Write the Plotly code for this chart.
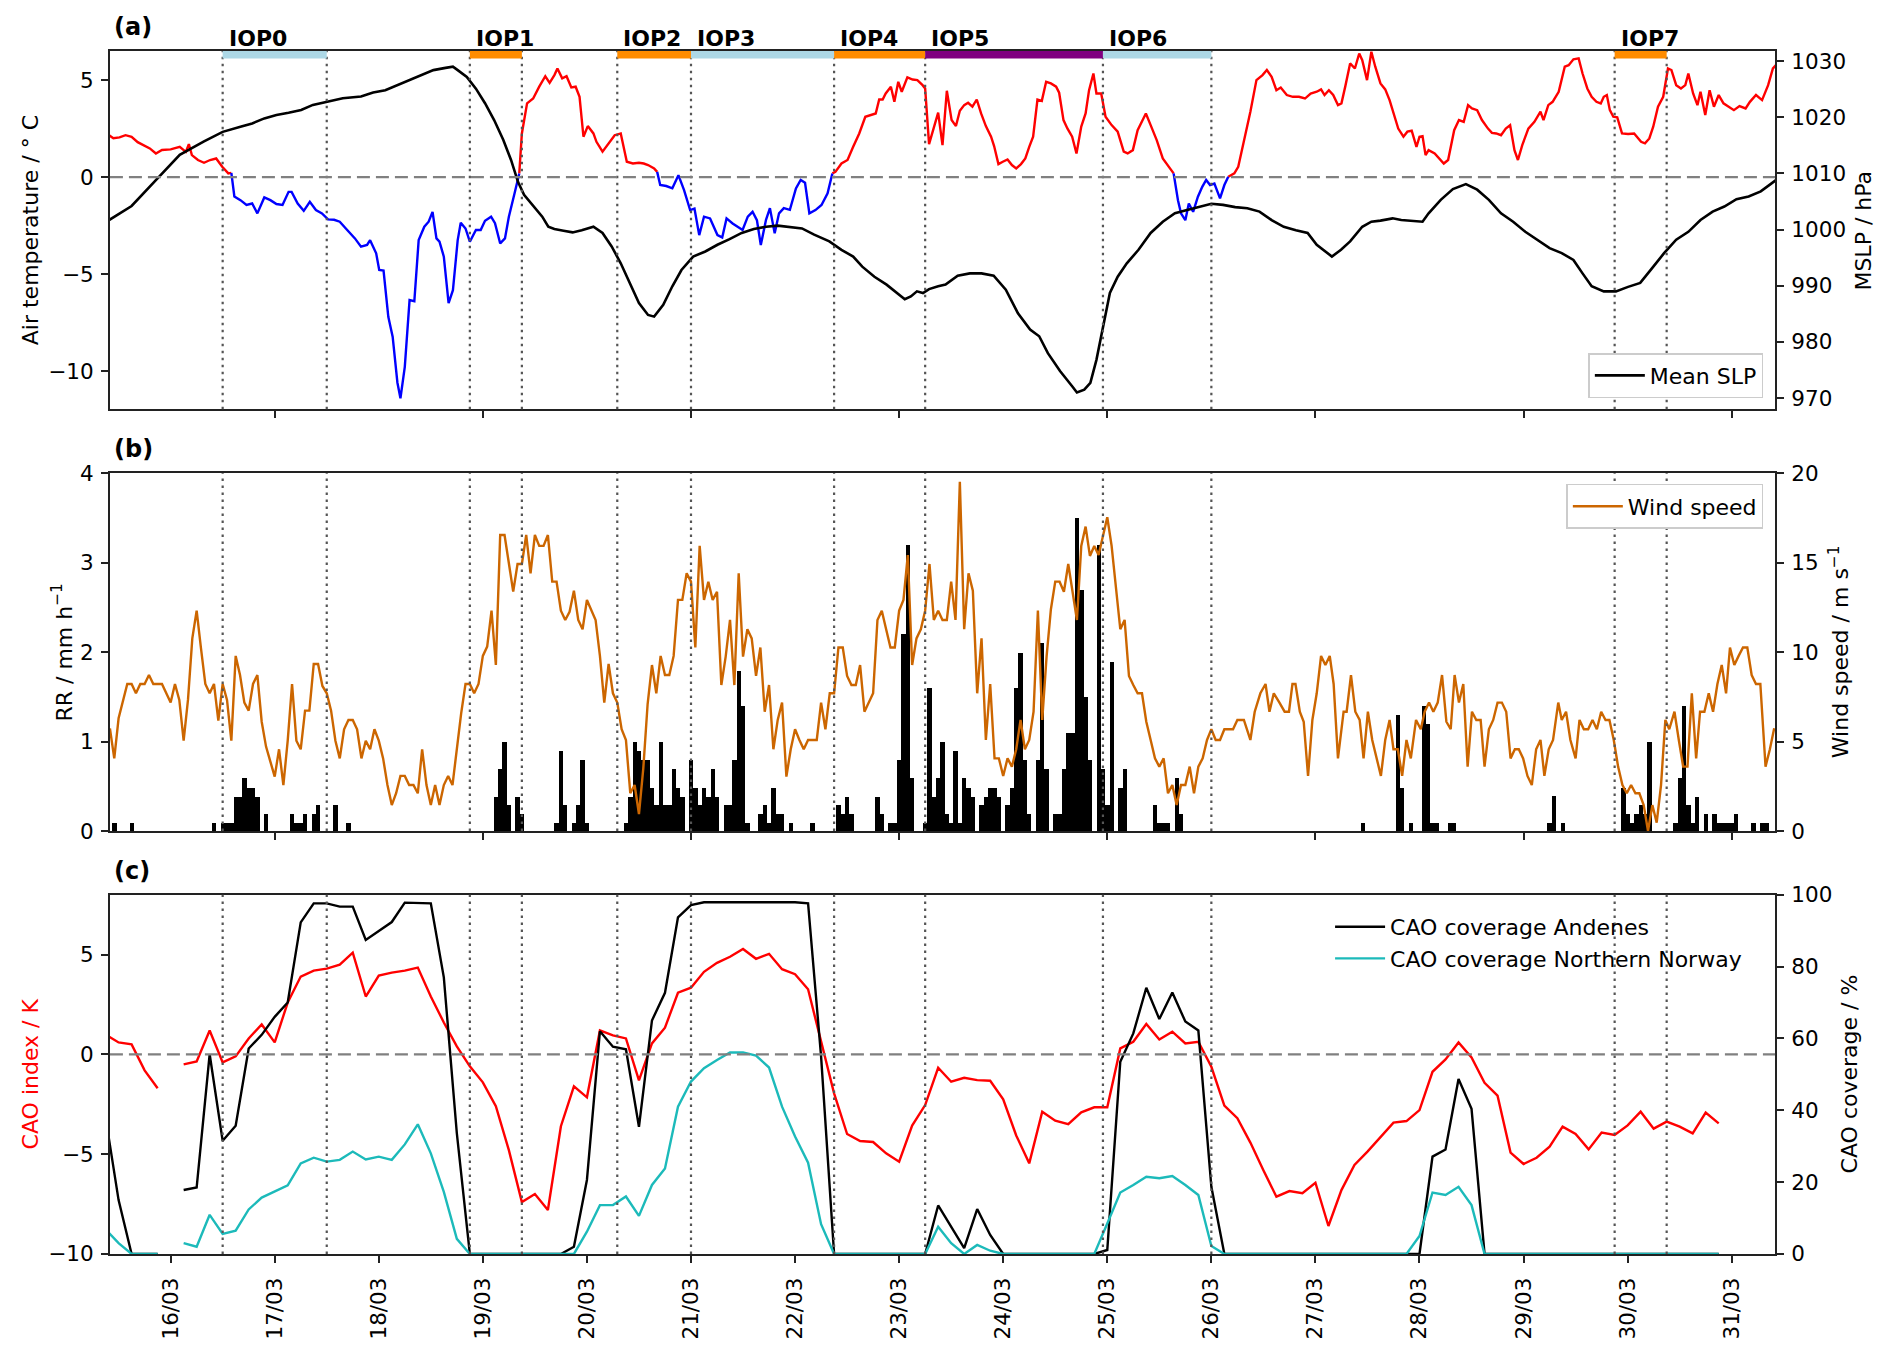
import pandas as pd
import plotly.graph_objects as go

T0 = pd.Timestamp("2022-03-15 00:00")

# ---- (a) air temperature / MSLP, hours after 15/03 00 UTC
temp_hours = [
    9.8, 10.8, 12.2, 13.6, 15.0, 16.4, 19.2, 20.6, 22.0, 24.0,
    26.1, 27.5, 28.2, 28.9, 30.3, 31.7, 33.1, 34.5, 35.9, 37.3,
    38.0, 38.7, 40.1, 41.5, 42.8, 44.0, 45.6, 47.0, 48.4, 49.8,
    51.2, 51.9, 53.3, 54.7, 56.1, 57.5, 58.9, 60.3, 61.7, 63.0,
    64.4, 66.5, 67.9, 69.3, 70.0, 71.4, 72.1, 73.1, 74.2, 75.2,
    76.3, 77.0, 78.0, 79.1, 80.2, 81.2, 82.5, 83.5, 84.4, 85.3,
    86.0, 87.0, 88.1, 89.1, 90.2, 90.9, 92.0, 93.0, 94.4, 95.5,
    96.5, 97.9, 98.8, 100.0, 101.1, 102.0, 103.4, 104.4, 105.0, 106.2,
    107.6, 109.0, 110.4, 111.4, 112.5, 113.2, 114.3, 115.3, 116.4, 117.4,
    118.3, 119.2, 120.2, 121.5, 122.2, 123.6, 125.0, 126.4, 127.8, 129.2,
    130.6, 132.0, 133.1, 134.1, 135.5, 136.2, 136.9, 138.3, 139.7, 141.1,
    142.4, 143.8, 144.8, 145.9, 147.0, 148.4, 150.1, 151.2, 152.2, 153.6,
    155.0, 155.9, 157.1, 158.2, 159.2, 160.1, 161.3, 162.2, 163.3, 164.3,
    165.4, 166.8, 168.2, 169.3, 170.3, 171.3, 172.7, 174.1, 175.5, 176.6,
    177.3, 178.7, 180.1, 181.4, 182.8, 184.2, 185.6, 186.6, 187.4, 188.2,
    188.9, 190.1, 190.9, 191.8, 192.6, 193.9, 195.1, 196.2, 197.4, 198.0,
    198.9, 200.1, 201.0, 202.0, 203.0, 204.1, 205.1, 206.0, 207.0, 207.9,
    208.9, 209.9, 210.9, 212.0, 213.2, 213.9, 214.9, 215.9, 217.0, 218.0,
    219.0, 220.1, 221.1, 222.0, 222.9, 223.9, 224.9, 225.9, 227.0, 228.2,
    228.9, 229.9, 230.8, 231.9, 232.9, 234.0, 235.0, 235.8, 236.8, 237.5,
    238.6, 239.6, 241.0, 242.4, 243.8, 244.7, 245.9, 247.0, 247.9, 248.9,
    250.0, 251.4, 252.8, 254.9, 255.3, 256.3, 257.0, 258.0, 258.8, 259.8,
    260.9, 261.9, 262.8, 263.7, 264.7, 266.0, 267.0, 267.9, 269.3, 270.2,
    271.6, 273.0, 274.4, 275.8, 276.8, 277.9, 279.0, 280.0, 281.4, 282.8,
    284.2, 285.6, 286.9, 288.3, 289.3, 290.1, 291.1, 292.1, 293.2, 294.0,
    294.9, 296.0, 297.1, 298.1, 298.8, 299.9, 300.9, 301.8, 303.0, 304.1,
    305.1, 306.0, 307.1, 308.3, 309.2, 310.2, 311.3, 312.0, 312.7, 313.4,
    314.1, 315.5, 316.6, 317.6, 318.6, 320.0, 321.1, 322.2, 323.2, 324.1,
    325.3, 326.4, 327.8, 328.7, 329.7, 330.8, 331.9, 332.9, 333.9, 334.7,
    335.7, 337.1, 338.5, 339.9, 340.6, 341.7, 342.7, 344.1, 345.5, 346.4,
    347.5, 348.7, 349.6, 350.7, 351.7, 352.8, 353.8, 354.5, 355.2, 355.9,
    356.7, 357.6, 358.7, 360.1, 361.5, 362.2, 363.1, 364.0, 365.0, 365.9,
    367.0, 368.2, 369.3, 370.1, 371.2, 372.3, 373.3, 374.0, 375.1, 376.1,
    376.8, 377.9, 378.9, 379.9, 381.0, 382.1, 383.2, 384.5, 385.8, 387.2,
    388.2, 389.6, 391.0, 392.4, 393.5, 394.2,
]
temp_vals = [
    2.16, 2.0, 2.05, 2.16, 2.08, 1.8, 1.48, 1.22, 1.4, 1.43,
    1.56, 1.3, 1.7, 1.13, 0.88, 0.74, 0.88, 0.96, 0.53, 0.19,
    0.22, -1.0, -1.19, -1.44, -1.36, -1.87, -1.05, -1.19, -1.39, -1.44,
    -0.76, -0.76, -1.36, -1.74, -1.27, -1.70, -1.87, -2.18, -2.2, -2.3,
    -2.65, -3.16, -3.59, -3.5, -3.25, -3.93, -4.79, -4.82, -7.2, -8.23,
    -10.6, -11.4, -9.78, -6.34, -6.4, -3.25, -2.56, -2.3, -1.79, -3.16,
    -3.33, -4.1, -6.5, -5.83, -3.25, -2.35, -2.65, -3.33, -2.73, -2.73,
    -2.25, -2.04, -2.38, -3.42, -3.16, -2.04, -0.76, 0.19, 2.25, 3.8,
    4.05, 4.66, 5.2, 4.86, 5.26, 5.6, 5.09, 5.2, 4.62, 4.66,
    4.14, 2.08, 2.63, 2.25, 1.82, 1.31, 1.74, 2.16, 2.25, 0.79,
    0.7, 0.74, 0.7, 0.62, 0.45, 0.27, -0.41, -0.46, -0.58, 0.1,
    -0.67, -1.7, -1.62, -2.99, -2.04, -2.13, -2.99, -3.11, -2.13, -2.39,
    -2.6, -2.73, -2.04, -1.79, -2.22, -3.5, -2.2, -1.6, -2.9, -1.87,
    -1.6, -1.69, -0.58, -0.15, -0.29, -1.87, -1.7, -1.44, -0.84, 0.19,
    0.27, 0.7, 0.88, 1.56, 2.25, 3.11, 3.2, 3.28, 4.0, 4.0,
    4.31, 4.66, 3.88, 4.91, 4.4, 5.14, 5.03, 5.0, 4.74, 4.57,
    1.70, 2.68, 3.32, 1.65, 4.45, 2.94, 2.63, 3.42, 3.71, 3.83,
    3.63, 4.0, 3.28, 2.63, 2.08, 1.6, 0.67, 0.79, 0.91, 0.62,
    0.45, 0.67, 0.96, 1.56, 2.08, 4.0, 3.93, 4.91, 4.83, 4.66,
    4.35, 2.94, 2.51, 2.08, 1.22, 2.6, 3.28, 4.48, 5.34, 4.31,
    4.31, 3.11, 2.68, 2.34, 1.31, 1.22, 1.39, 2.42, 2.85, 3.28,
    2.68, 1.91, 0.96, 0.36, 0.19, -1.19, -1.87, -2.22, -1.36, -1.79,
    -1.01, -0.5, -0.15, -0.41, -0.33, -1.1, -0.41, 0.02, 0.19, 0.53,
    1.91, 3.37, 5.0, 5.26, 5.52, 5.17, 4.48, 4.62, 4.23, 4.14,
    4.14, 4.05, 4.31, 4.4, 4.52, 4.23, 4.48, 4.23, 3.71, 3.8,
    4.69, 5.86, 5.6, 6.37, 6.03, 5.0, 6.46, 5.69, 4.83, 4.52,
    3.97, 3.28, 2.5, 2.08, 2.34, 2.39, 1.56, 2.08, 2.11, 1.13,
    1.39, 1.22, 0.96, 0.7, 0.88, 2.42, 2.94, 2.85, 3.71, 3.54,
    3.45, 2.94, 2.5, 2.28, 2.25, 2.16, 2.5, 2.68, 1.39, 0.88,
    1.65, 2.5, 2.85, 3.37, 2.94, 3.71, 3.88, 4.4, 5.69, 5.77,
    6.07, 6.12, 5.34, 4.57, 4.14, 3.88, 3.8, 4.14, 4.23, 3.45,
    3.11, 3.08, 2.25, 2.22, 2.25, 2.08, 1.82, 1.74, 1.99, 2.6,
    3.63, 4.14, 5.6, 5.52, 4.74, 4.57, 4.74, 5.34, 4.31, 3.71,
    4.4, 3.2, 4.48, 3.63, 4.23, 3.8, 3.66, 3.45, 3.66, 3.54,
    3.88, 4.23, 3.97, 4.74, 5.6, 5.77,
]

slp_hours = [
    9.8, 15.0, 20.6, 26.1, 31.7, 36.0, 40.1, 42.8, 45.6, 48.4,
    51.2, 54.1, 56.8, 60.3, 63.7, 67.9, 70.7, 73.5, 76.3, 79.1,
    81.8, 84.6, 87.4, 89.1, 90.2, 92.3, 94.4, 96.5, 98.6, 100.7,
    102.5, 104.1, 105.5, 107.6, 109.7, 111.1, 112.5, 114.6, 116.7, 118.8,
    121.5, 123.6, 125.7, 127.8, 129.9, 132.0, 134.1, 135.5, 137.6, 139.7,
    141.8, 144.5, 147.3, 150.1, 152.9, 155.7, 158.5, 161.3, 164.0, 166.8,
    169.6, 172.4, 175.9, 178.7, 181.4, 183.5, 186.3, 189.1, 191.9, 193.3,
    194.7, 196.1, 197.5, 198.9, 201.0, 202.7, 205.5, 208.3, 211.0, 213.8,
    216.6, 219.4, 222.2, 224.3, 226.3, 229.1, 231.9, 233.0, 234.7, 236.1,
    237.5, 239.2, 240.6, 242.4, 244.5, 247.2, 250.0, 252.8, 255.6, 258.4,
    261.2, 264.0, 266.7, 269.5, 272.3, 275.1, 277.9, 280.7, 283.5, 286.2,
    288.3, 290.4, 291.8, 293.9, 296.0, 298.8, 300.9, 303.0, 305.8, 307.8,
    310.6, 312.7, 314.1, 316.9, 319.7, 322.7, 325.3, 328.0, 330.8, 333.6,
    336.4, 339.2, 342.0, 344.8, 347.5, 349.6, 351.7, 354.5, 357.3, 360.1,
    362.9, 365.6, 368.4, 371.2, 374.0, 376.8, 379.6, 382.3, 385.1, 387.9,
    390.7, 392.8, 394.2,
]
slp_vals = [
    1001.7, 1004.2, 1008.8, 1013.3, 1015.7, 1017.4, 1018.3, 1018.9, 1019.8, 1020.4,
    1020.8, 1021.3, 1022.2, 1022.8, 1023.4, 1023.7, 1024.4, 1024.8, 1025.7, 1026.7,
    1027.5, 1028.4, 1028.8, 1029.0, 1028.4, 1027.2, 1025.1, 1022.5, 1019.5, 1016.0,
    1012.4, 1008.5, 1006.2, 1004.2, 1002.3, 1000.5, 1000.1, 999.8, 999.5, 999.9,
    1000.5, 999.4, 997.0, 994.0, 990.5, 986.9, 984.8, 984.5, 986.6, 989.9,
    992.8, 995.2, 996.1, 997.3, 998.3, 999.4, 1000.1, 1000.5, 1000.7, 1000.5,
    1000.2, 999.1, 997.9, 996.4, 995.2, 993.4, 991.6, 990.2, 988.4, 987.6,
    988.1, 989.0, 988.7, 989.4, 989.9, 990.2, 991.8, 992.2, 992.2, 991.8,
    989.3, 985.1, 982.2, 981.0, 978.0, 974.8, 972.1, 971.0, 971.5, 972.7,
    976.8, 983.3, 988.7, 991.6, 994.0, 996.4, 999.4, 1001.4, 1002.9, 1003.5,
    1004.1, 1004.6, 1004.4, 1004.0, 1003.8, 1003.2, 1001.7, 1000.5, 999.9, 999.4,
    997.3, 996.1, 995.2, 996.4, 997.9, 1000.5, 1001.4, 1001.6, 1002.0, 1001.7,
    1001.6, 1001.4, 1002.9, 1005.3, 1007.2, 1008.1, 1007.1, 1005.3, 1002.9, 1001.4,
    999.6, 998.2, 996.7, 995.8, 994.6, 992.2, 989.9, 989.0, 989.0, 989.8,
    990.5, 993.1, 995.8, 998.2, 999.6, 1001.7, 1003.2, 1004.1, 1005.4, 1005.9,
    1006.8, 1008.0, 1008.8,
]

# ---- (b) wind speed (hourly) and precipitation rate
wind_hours = [
    10, 11, 12, 14, 15, 16, 17, 18, 19, 20,
    22, 24, 25, 26, 27, 28, 29, 30, 31, 32,
    33, 34, 35, 36, 37, 38, 39, 40, 41, 42,
    43, 44, 45, 46, 47, 48, 49, 50, 51, 52,
    53, 54, 55, 56, 57, 58, 59, 60, 61, 62,
    63, 64, 65, 66, 67, 68, 69, 70, 71, 72,
    73, 74, 75, 76, 77, 78, 79, 80, 81, 82,
    83, 84, 85, 86, 87, 88, 89, 90, 91, 92,
    93, 94, 95, 96, 97, 98, 99, 100, 101, 102,
    103, 104, 105, 106, 107, 108, 109, 110, 111, 112,
    113, 114, 115, 116, 117, 118, 119, 120, 121, 122,
    123, 124, 125, 126, 127, 128, 129, 130, 131, 132,
    133, 134, 135, 136, 137, 138, 139, 140, 141, 142,
    143, 144, 145, 146, 147, 148, 149, 150, 151, 152,
    153, 154, 155, 156, 157, 158, 159, 160, 161, 162,
    163, 164, 165, 166, 167, 168, 169, 170, 171, 172,
    173, 174, 175, 176, 177, 178, 179, 180, 181, 182,
    183, 184, 185, 186, 187, 188, 189, 190, 191, 192,
    193, 194, 195, 196, 197, 198, 199, 200, 201, 202,
    203, 204, 205, 206, 207, 208, 209, 210, 211, 212,
    213, 214, 215, 216, 217, 218, 219, 220, 221, 222,
    223, 224, 225, 226, 227, 228, 229, 230, 231, 232,
    233, 234, 235, 236, 237, 238, 239, 240, 241, 242,
    243, 244, 245, 246, 247, 248, 249, 250, 251, 252,
    253, 254, 255, 256, 257, 258, 259, 260, 261, 262,
    263, 264, 265, 266, 267, 268, 269, 270, 271.5, 273.0,
    274.0, 275.3, 276.5, 277.4, 278.4, 279.7, 280.9, 281.9, 282.7, 283.4,
    284.4, 285.3, 286.3, 287.3, 288.3, 289.3, 290.3, 291.3, 292.2, 293.2,
    294.5, 295.2, 296.2, 297.2, 298.2, 299.1, 300.1, 301.1, 302.1, 303.1,
    304.1, 305.1, 306.0, 307.0, 308.0, 309.0, 310.0, 311.2, 312.3, 313.2,
    314.2, 315.2, 316.2, 317.2, 318.2, 319.2, 320.1, 321.1, 322.1, 323.1,
    324.1, 325.1, 326.1, 327.0, 328.0, 329.0, 330.0, 331.0, 332.0, 333.0,
    334.0, 334.9, 335.9, 336.9, 337.9, 338.9, 339.9, 340.8, 341.8, 342.8,
    344.0, 344.8, 345.8, 346.8, 348.0, 348.9, 349.9, 350.9, 351.9, 352.9,
    353.9, 354.9, 355.8, 356.8, 357.8, 358.8, 359.8, 360.8, 361.8, 362.7,
    363.7, 364.7, 365.7, 366.7, 367.7, 368.7, 369.6, 370.8, 371.8, 372.8,
    373.8, 374.8, 375.8, 376.7, 377.7, 378.7, 379.7, 380.7, 381.7, 382.7,
    383.6, 384.6, 385.6, 386.6, 387.6, 388.6, 389.6, 390.6, 391.8, 392.8,
    393.8,
]
wind_vals = [
    5.74, 4.06, 6.3, 8.22, 8.22, 7.7, 8.22, 8.22, 8.72, 8.22,
    8.22, 7.18, 8.22, 7.33, 5.05, 7.33, 10.77, 12.32, 10.21, 8.22,
    7.7, 8.22, 6.17, 8.22, 7.33, 5.05, 9.79, 8.72, 7.18, 6.73,
    8.22, 8.72, 6.11, 4.72, 3.88, 3.04, 4.57, 2.57, 5.05, 8.22,
    5.05, 4.57, 6.73, 6.73, 9.34, 9.34, 8.11, 7.7, 6.73, 5.05,
    4.06, 5.69, 6.21, 6.21, 5.69, 4.06, 5.05, 4.57, 5.69, 5.05,
    4.06, 2.57, 1.45, 2.11, 3.08, 3.08, 2.57, 2.57, 2.11, 4.57,
    2.57, 1.45, 2.57, 1.45, 2.57, 3.08, 2.57, 4.62, 6.58, 8.22,
    8.22, 7.7, 8.22, 9.79, 10.31, 12.32, 9.28, 16.55, 16.55, 14.97,
    13.38, 14.93, 14.93, 16.55, 14.41, 16.55, 15.94, 15.94, 16.55, 13.94,
    13.94, 12.32, 11.8, 12.26, 13.44, 11.8, 11.28, 12.92, 12.36, 11.8,
    9.79, 7.18, 9.34, 7.7, 7.18, 5.69, 5.09, 2.11, 2.57, 0.95,
    3.5, 7.1, 9.28, 7.7, 9.79, 8.72, 8.72, 9.79, 12.92, 12.92,
    14.41, 13.94, 10.26, 15.94, 12.92, 13.94, 12.92, 13.38, 8.16, 9.75,
    11.8, 8.16, 14.41, 9.75, 11.28, 10.77, 8.67, 10.26, 6.67, 8.16,
    4.57, 6.21, 7.18, 3.04, 4.57, 5.69, 5.09, 4.57, 5.09, 5.09,
    5.09, 7.18, 5.69, 7.7, 7.7, 10.26, 10.26, 8.67, 8.16, 8.16,
    9.28, 6.67, 7.18, 7.7, 11.8, 12.32, 11.28, 10.26, 10.26, 12.32,
    12.92, 15.43, 9.28, 10.77, 11.28, 12.32, 14.93, 11.8, 12.32, 11.8,
    11.8, 13.94, 11.8, 19.53, 11.28, 14.41, 13.44, 7.7, 10.77, 5.09,
    8.22, 4.06, 4.06, 3.08, 4.06, 3.6, 4.57, 6.21, 4.57, 5.09,
    6.67, 12.32, 6.21, 9.75, 12.4, 13.94, 13.94, 13.38, 14.93, 13.44,
    11.8, 15.94, 17.02, 15.38, 15.94, 15.43, 16.46, 17.54, 15.94, 13.44,
    11.28, 11.8, 8.67, 8.16, 7.7, 7.7, 6.11, 5.09, 4.06, 3.6,
    4.06, 2.11, 2.57, 1.45, 2.57, 2.57, 3.6, 2.11, 3.6, 4.06,
    5.09, 5.69, 5.09, 5.09, 5.69, 5.69, 5.69, 6.21, 6.21, 5.09,
    6.67, 7.7, 8.22, 6.67, 7.7, 7.18, 6.67, 6.67, 8.22, 8.22,
    6.67, 6.11, 3.08, 6.21, 7.7, 9.79, 9.28, 9.79, 8.22, 4.06,
    6.67, 6.67, 8.72, 6.67, 6.21, 4.06, 6.67, 5.09, 4.06, 3.08,
    5.09, 6.21, 4.57, 4.57, 3.08, 5.09, 4.06, 6.21, 5.69, 6.67,
    7.18, 6.67, 7.18, 8.72, 6.11, 5.69, 8.72, 7.18, 8.22, 3.6,
    6.67, 6.21, 6.21, 3.6, 5.69, 6.21, 7.18, 7.18, 6.67, 4.06,
    4.57, 4.57, 4.06, 3.08, 2.57, 4.57, 5.09, 3.08, 4.57, 5.09,
    7.18, 6.21, 6.67, 5.09, 4.06, 6.21, 5.69, 5.69, 6.21, 5.69,
    6.67, 6.21, 6.21, 5.09, 3.6, 2.57, 2.11, 2.57, 2.11, 2.11,
    1.45, 0.0, 1.45, 0.47, 2.57, 6.21, 5.69, 6.67, 5.09, 3.6,
    3.6, 7.7, 4.06, 6.67, 6.67, 7.7, 6.67, 8.22, 9.28, 7.7,
    10.26, 9.28, 9.79, 10.26, 10.26, 8.72, 8.22, 8.22, 3.6, 4.57,
    5.74,
]

rr_hours = [
    11, 15, 34, 36, 37, 38, 39, 40, 41, 42,
    43, 44, 46, 52, 53, 54, 55, 57, 58, 62,
    65, 99, 100, 101, 102, 104, 105, 113, 114, 115,
    117, 118, 119, 120, 129, 130, 131, 132, 133, 134,
    135, 136, 137, 138, 139, 140, 141, 142, 144, 145,
    146, 147, 148, 149, 150, 152, 153, 154, 155, 156,
    157, 160, 161, 162, 163, 164, 165, 167, 172, 178,
    179, 180, 181, 187, 188, 190, 191, 192, 193, 194,
    195, 198, 199, 200, 201, 202, 203, 204, 205, 206,
    207, 208, 209, 211, 212, 213, 214, 215, 217, 218,
    219, 220, 221, 222, 224, 225, 226, 228, 229, 230,
    231, 232, 233, 234, 235, 236, 238, 239, 240, 241,
    243, 244, 251, 252, 253, 254, 256, 257, 299, 307,
    308, 310, 313, 314, 315, 316, 319, 320, 342, 343,
    345, 359, 360, 361, 362, 363, 364, 365, 371, 372,
    373, 374, 375, 376, 378, 380, 381, 382, 383, 384,
    385, 389, 391, 392,
]
rr_vals = [
    0.09, 0.09, 0.09, 0.09, 0.09, 0.09, 0.38, 0.38, 0.59, 0.48,
    0.48, 0.38, 0.19, 0.19, 0.09, 0.09, 0.19, 0.19, 0.29, 0.29,
    0.09, 0.38, 0.69, 0.99, 0.29, 0.38, 0.19, 0.09, 0.89, 0.29,
    0.09, 0.29, 0.79, 0.09, 0.09, 0.38, 0.99, 0.89, 0.79, 0.79,
    0.48, 0.29, 0.99, 0.29, 0.29, 0.69, 0.48, 0.38, 0.79, 0.48,
    0.29, 0.48, 0.38, 0.69, 0.38, 0.29, 0.29, 0.79, 1.79, 1.39,
    0.09, 0.19, 0.29, 0.09, 0.48, 0.19, 0.19, 0.09, 0.09, 0.29,
    0.19, 0.38, 0.19, 0.38, 0.19, 0.09, 0.09, 0.79, 2.2, 3.2,
    0.59, 0.09, 1.6, 0.38, 0.59, 0.99, 0.19, 0.09, 0.89, 0.09,
    0.59, 0.48, 0.38, 0.29, 0.38, 0.48, 0.48, 0.38, 0.29, 0.48,
    1.6, 1.99, 0.79, 0.19, 0.79, 2.1, 0.69, 0.19, 0.19, 0.69,
    1.09, 1.09, 3.5, 2.69, 1.49, 0.79, 3.2, 0.69, 0.29, 1.89,
    0.48, 0.69, 0.29, 0.09, 0.09, 0.09, 0.59, 0.19, 0.09, 1.29,
    0.48, 0.09, 1.39, 1.19, 0.09, 0.09, 0.09, 0.09, 0.09, 0.39,
    0.09, 0.48, 0.19, 0.09, 0.19, 0.29, 0.19, 0.99, 0.09, 0.59,
    1.39, 0.29, 0.09, 0.38, 0.19, 0.19, 0.09, 0.09, 0.09, 0.09,
    0.19, 0.09, 0.09, 0.09,
]

# ---- (c) CAO index and coverage, 3-hourly from 15/03 09 UTC to 30/03 21 UTC
cao_index = [
    1.0, 0.6, 0.5, -0.8, -1.7,
    None, -0.5, -0.35, 1.2, -0.4, -0.1, 0.8, 1.5,
    0.6, 2.6, 3.9, 4.2, 4.3, 4.5, 5.1, 2.9,
    3.95, 4.1, 4.2, 4.35, 2.9, 1.6, 0.4, -0.6,
    -1.4, -2.6, -4.8, -7.4, -7.0, -7.8, -3.6, -1.6,
    -2.15, 1.2, 0.95, 0.8, -1.3, 0.55, 1.34, 3.09,
    3.34, 4.14, 4.59, 4.89, 5.28, 4.79, 5.04, 4.27,
    4.02, 3.26, 0.7, -1.95, -3.99, -4.34, -4.39, -4.96,
    -5.38, -3.57, -2.54, -0.67, -1.37, -1.17, -1.29, -1.32,
    -2.25, -4.06, -5.46, -2.87, -3.32, -3.5, -2.9, -2.65,
    -2.65, 0.3, 0.63, 1.52, 0.75, 1.14, 0.55, 0.63,
    -0.62, -2.57, -3.2, -4.42, -5.8, -7.13, -6.85, -6.96,
    -6.43, -8.6, -6.8, -5.54, -4.87, -4.17, -3.42, -3.34,
    -2.79, -0.87, -0.25, 0.6, -0.15, -1.42, -2.07, -4.92,
    -5.49, -5.18, -4.62, -3.62, -3.99, -4.76, -3.92, -4.04,
    -3.56, -2.87, -3.72, -3.37, -3.62, -3.96, -2.92, -3.46,
]
cao_andenes = [
    38, 15, 0, 0, 0,
    None, 17.8, 18.5, 55.6, 31.5, 35.7, 57.2, 61,
    66, 70, 92.3, 97.6, 97.6, 96.7, 96.7, 87.4,
    90, 92.4, 97.8, 97.8, 97.6, 77, 33.6, 0,
    0, 0, 0, 0, 0, 0, 0, 2,
    20.6, 62, 57.7, 57, 35.4, 65, 72.7, 93.7,
    97.1, 97.9, 97.9, 97.9, 97.9, 97.9, 97.9, 97.9,
    97.9, 97.6, 55, 0, 0, 0, 0, 0,
    0, 0, 0, 13.5, 7.6, 1.6, 12.5, 5.3,
    0, 0, 0, 0, 0, 0, 0, 0,
    1.1, 53.5, 61.4, 74.1, 65.4, 72.8, 64.7, 62.2,
    18.7, 0, 0, 0, 0, 0, 0, 0,
    0, 0, 0, 0, 0, 0, 0, 0,
    0, 27.1, 29.1, 48.7, 40.4, 0, 0, 0,
    0, 0, 0, 0, 0, 0, 0, 0,
    0, 0, 0, 0, 0, 0, 0, 0,
]
cao_norway = [
    6.8, 3, 0, 0, 0,
    None, 3, 2, 10.9, 5.6, 6.5, 12.4, 15.7,
    17.5, 19.1, 25.2, 26.8, 25.7, 26.2, 28.5, 26.3,
    27.1, 26.2, 30.5, 36.1, 28, 17.3, 4.2, 0,
    0, 0, 0, 0, 0, 0, 0, 0,
    6.2, 13.6, 13.6, 16, 10.6, 19.2, 23.8, 41,
    48, 51.7, 54, 56.1, 56.1, 55.2, 51.9, 41,
    32.7, 25.4, 8.3, 0, 0, 0, 0, 0,
    0, 0, 0, 7.6, 3, 0, 2.5, 0.9,
    0, 0, 0, 0, 0, 0, 0, 0,
    8.5, 17.1, 19.2, 21.5, 21.1, 21.7, 19.2, 16.4,
    2.2, 0, 0, 0, 0, 0, 0, 0,
    0, 0, 0, 0, 0, 0, 0, 0,
    5, 17.1, 16.4, 18.7, 13.6, 0, 0, 0,
    0, 0, 0, 0, 0, 0, 0, 0,
    0, 0, 0, 0, 0, 0, 0, 0,
]

# ---- intensive observation periods (hours after 15/03 00 UTC)
iop_names = ["IOP0", "IOP1", "IOP2", "IOP3", "IOP4", "IOP5", "IOP6", "IOP7"]
iop_start = [36, 93, 127, 144, 177, 198, 239, 357]
iop_end = [60, 105, 144, 177, 198, 239, 264, 369]
iop_colors = ["lightblue", "darkorange", "darkorange", "lightblue",
              "darkorange", "purple", "lightblue", "darkorange"]


def to_time(hours):
    return T0 + pd.to_timedelta(list(hours), unit="h")


temp_time = to_time(temp_hours)
neg = [v < 0 for v in temp_vals]
n = len(temp_vals)
temp_red = [None if neg[i] else v for i, v in enumerate(temp_vals)]
temp_blue = [v if (neg[i] or (i > 0 and neg[i - 1]) or (i < n - 1 and neg[i + 1])) else None
             for i, v in enumerate(temp_vals)]
cao_time = to_time(range(9, 382, 3))

FONT = "DejaVu Sans"
AX = "#222222"
xd = [0.0581, 0.9382]
ya = [0.6975, 0.9623]
yb = [0.3858, 0.6502]
yc = [0.0732, 0.3387]
xrange = [T0 + pd.Timedelta(hours=10), T0 + pd.Timedelta(hours=394)]

fig = go.Figure()
fig.add_trace(go.Scatter(x=temp_time, y=temp_red, mode="lines", line=dict(color="red", width=2.4),
                         xaxis="x", yaxis="y", showlegend=False))
fig.add_trace(go.Scatter(x=temp_time, y=temp_blue, mode="lines", line=dict(color="blue", width=2.4),
                         xaxis="x", yaxis="y", showlegend=False))
fig.add_trace(go.Scatter(x=to_time(slp_hours), y=slp_vals, mode="lines", name="Mean SLP",
                         line=dict(color="black", width=2.6), xaxis="x", yaxis="y2", legend="legend"))
fig.add_trace(go.Bar(x=to_time(rr_hours), y=rr_vals, width=3600000, marker=dict(color="black", line=dict(width=0)),
                     xaxis="x2", yaxis="y3", showlegend=False))
fig.add_trace(go.Scatter(x=to_time(wind_hours), y=wind_vals, mode="lines", name="Wind speed",
                         line=dict(color="#cc6600", width=2.4), xaxis="x2", yaxis="y4", legend="legend2"))
fig.add_trace(go.Scatter(x=cao_time, y=cao_index, mode="lines", line=dict(color="red", width=2.4),
                         xaxis="x3", yaxis="y5", showlegend=False))
fig.add_trace(go.Scatter(x=cao_time, y=cao_andenes, mode="lines", name="CAO coverage Andenes",
                         line=dict(color="black", width=2.4), xaxis="x3", yaxis="y6", legend="legend3"))
fig.add_trace(go.Scatter(x=cao_time, y=cao_norway, mode="lines", name="CAO coverage Northern Norway",
                         line=dict(color="#1cbaba", width=2.4), xaxis="x3", yaxis="y6", legend="legend3"))

tickfont = dict(family=FONT, size=21.5, color="black")


def xaxis(anchor, labels):
    d = dict(domain=xd, anchor=anchor, type="date", range=xrange, showgrid=False, zeroline=False,
             showline=True, mirror=True, linecolor=AX, linewidth=2, ticks="outside", ticklen=7,
             tickwidth=2, tickcolor=AX, tickfont=tickfont, automargin=False)
    if labels:
        d.update(tickmode="linear", tick0="2022-03-16", dtick=86400000, tickformat="%d/%m",
                 tickangle=-90, ticklabelstandoff=6)
    else:
        d.update(tickmode="linear", tick0="2022-03-17", dtick=2 * 86400000, showticklabels=False)
    return d


def yaxis(domain, rng, tickvals, right=False, over=None):
    d = dict(domain=domain, range=rng, tickmode="array", tickvals=tickvals, showgrid=False,
             zeroline=False, showline=True, linecolor=AX, linewidth=2, ticks="outside", ticklen=7,
             tickwidth=2, tickcolor=AX, tickfont=tickfont, ticklabelstandoff=3, automargin=False)
    if right:
        d.update(side="right", overlaying=over)
    return d


shapes = []
panels = [("x", "y domain", "y"), ("x2", "y3 domain", None), ("x3", "y5 domain", "y5")]
bounds = sorted(set(iop_start + iop_end))
for xr, yr, zero_ax in panels:
    for h in bounds:
        t = T0 + pd.Timedelta(hours=h)
        shapes.append(dict(type="line", xref=xr, yref=yr, x0=t, x1=t, y0=0, y1=1,
                           line=dict(color="#555555", width=2.2, dash="2.5px,4.5px")))
    if zero_ax:
        shapes.append(dict(type="line", xref=xr + " domain", yref=zero_ax, x0=0, x1=1, y0=0, y1=0,
                           line=dict(color="#808080", width=2.4, dash="13px,6px")))

annotations = []
for name, s, e, c in zip(iop_names, iop_start, iop_end, iop_colors):
    ts, te = T0 + pd.Timedelta(hours=s), T0 + pd.Timedelta(hours=e)
    shapes.append(dict(type="rect", xref="x", yref="y domain", x0=ts, x1=te, y0=0.979, y1=1.0,
                       fillcolor=c, line=dict(width=0)))
    annotations.append(dict(text="<b>%s</b>" % name, x=ts, xref="x", y=1.0, yref="y domain",
                            xanchor="left", yanchor="bottom", xshift=4, yshift=-2, showarrow=False,
                            font=dict(family=FONT, size=22, color="black")))

for lab, ytop in [("(a)", ya[1]), ("(b)", yb[1]), ("(c)", yc[1])]:
    annotations.append(dict(text="<b>%s</b>" % lab, x=0.0592, xref="paper", y=ytop, yref="paper",
                            xanchor="left", yanchor="bottom", yshift=8, showarrow=False,
                            font=dict(family=FONT, size=24, color="black")))

titles = [
    ("Air temperature / \u00b0 C", 0.0159, ya, "black"),
    ("MSLP / hPa", 0.9849, ya, "black"),
    ("RR / mm h<sup>\u22121</sup>", 0.0330, yb, "black"),
    ("Wind speed / m s<sup>\u22121</sup>", 0.9720, yb, "black"),
    ("CAO index / K", 0.0159, yc, "red"),
    ("CAO coverage / %", 0.9773, yc, "black"),
]
for text, x, dom, col in titles:
    annotations.append(dict(text=text, x=x, xref="paper", y=(dom[0] + dom[1]) / 2, yref="paper",
                            xanchor="center", yanchor="middle", textangle=-90, showarrow=False,
                            font=dict(family=FONT, size=22, color=col)))

legfont = dict(family=FONT, size=22, color="black")
fig.update_layout(
    width=1892, height=1353,
    margin=dict(l=0, r=0, t=0, b=0, pad=0, autoexpand=False),
    paper_bgcolor="white", plot_bgcolor="white",
    font=dict(family=FONT, size=22, color="black"),
    bargap=0,
    xaxis=xaxis("y", False),
    xaxis2=xaxis("y3", False),
    xaxis3=xaxis("y5", True),
    yaxis=yaxis(ya, [-11.97, 6.5], [-10, -5, 0, 5]),
    yaxis2=yaxis(ya, [968.0, 1031.8], [970, 980, 990, 1000, 1010, 1020, 1030], True, "y"),
    yaxis3=yaxis(yb, [0, 4], [0, 1, 2, 3, 4]),
    yaxis4=yaxis(yb, [0, 20], [0, 5, 10, 15, 20], True, "y3"),
    yaxis5=yaxis(yc, [-10, 8], [-10, -5, 0, 5]),
    yaxis6=yaxis(yc, [0, 100], [0, 20, 40, 60, 80, 100], True, "y5"),
    legend=dict(x=0.932, y=0.7058, xanchor="right", yanchor="bottom", font=legfont, itemwidth=50,
                bgcolor="white", bordercolor="#cccccc", borderwidth=1.5),
    legend2=dict(x=0.932, y=0.6423, xanchor="right", yanchor="top", font=legfont, itemwidth=50,
                 bgcolor="white", bordercolor="#cccccc", borderwidth=1.5),
    legend3=dict(x=0.7030, y=0.3304, xanchor="left", yanchor="top", font=legfont, itemwidth=50,
                 bgcolor="rgba(255,255,255,0)", borderwidth=0),
    shapes=shapes,
    annotations=annotations,
)

fig.write_html("out.html", config={"displayModeBar": False},
               post_script="document.body.style.margin='0';")
